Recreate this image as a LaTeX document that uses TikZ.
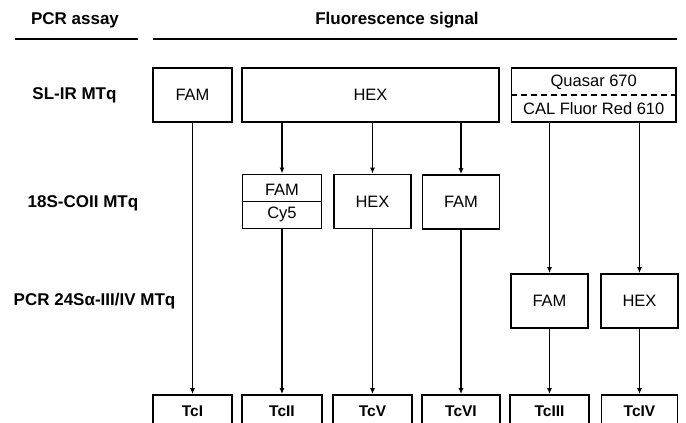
\documentclass[tikz,border=0pt]{standalone}
\usepackage{fontspec}
\setmainfont{Liberation Sans}
\usetikzlibrary{arrows.meta}
\tikzset{
  x=1pt, y=-1pt,
  box/.style={draw, line width=1.8pt, inner sep=0pt, minimum height=54pt,
    font=\fontsize{16.5}{19}\selectfont},
  tcbox/.style={draw, line width=1.8pt, inner sep=0pt, minimum height=33pt,
    font=\fontsize{15.5}{18}\selectfont\bfseries},
  lab/.style={inner sep=0pt, font=\fontsize{17}{20}\selectfont\bfseries},
  txt/.style={inner sep=0pt, font=\fontsize{16.5}{19}\selectfont},
  conn/.style={line width=1.6pt, -{Latex[length=6pt,width=5pt]}},
  hline/.style={line width=2.4pt},
}
\begin{document}
\begin{tikzpicture}
\useasboundingbox (0,0) rectangle (686,423);
\clip (0,0) rectangle (686,423);
% headers
\node[lab] (hpcr) at (75,20) {PCR assay};
\node[lab] (hflu) at (397,20) {Fluorescence signal};
\draw[hline] (15,39) -- (138,39);
\draw[hline] (153,39) -- (677,39);
% row labels
\node[lab] (r1) at (74.5,95) {SL-IR MTq};
\node[lab] (r2) at (83,203) {18S-COII MTq};
\node[lab] (r3) at (94.5,301.5) {PCR 24Sα-III/IV MTq};
% top row
\node[box, minimum width=79pt] (fam1) at (192.5,95) {FAM};
\node[box, minimum width=257pt] (hex1) at (370.5,95) {HEX};
\node[box, minimum width=164.5pt] (quas) at (593.75,95) {};
\draw[line width=1.4pt, dash pattern=on 6pt off 4pt] (quas.west) -- (quas.east);
\node[txt] (qtxt) at (593.75,82.5) {Quasar 670};
\node[txt] (ctxt) at (593.75,108.5) {CAL Fluor Red 610};
% middle row
\node[box, minimum width=79pt] (famcy) at (282,201.4) {};
\draw[line width=1.8pt] (famcy.west) -- (famcy.east);
\node[txt] (ftxt) at (282,189.5) {FAM};
\node[txt] (cytxt) at (282,214) {Cy5};
\node[box, minimum width=77pt] (hex2) at (372.5,201.5) {HEX};
\node[box, minimum width=77pt] (fam2) at (461,202) {FAM};
% third row
\node[box, minimum width=77pt] (fam3) at (549.5,301) {FAM};
\node[box, minimum width=77pt] (hex3) at (639.5,301) {HEX};
% bottom row
\node[tcbox, minimum width=79pt] (tc1) at (192.5,411.5) {TcI};
\node[tcbox, minimum width=80pt] (tc2) at (282,411.5) {TcII};
\node[tcbox, minimum width=79pt] (tc5) at (372.5,411.5) {TcV};
\node[tcbox, minimum width=78pt] (tc6) at (461,411.5) {TcVI};
\node[tcbox, minimum width=79pt] (tc3) at (549.5,411.5) {TcIII};
\node[tcbox, minimum width=76pt] (tc4) at (639.5,411.5) {TcIV};
% connectors
\draw[conn] (fam1.south) -- (tc1.north);
\draw[conn] (hex1.south -| famcy.north) -- (famcy.north);
\draw[conn] (hex1.south -| hex2.north) -- (hex2.north);
\draw[conn] (hex1.south -| fam2.north) -- (fam2.north);
\draw[conn] (quas.south -| fam3.north) -- (fam3.north);
\draw[conn] (quas.south -| hex3.north) -- (hex3.north);
\draw[conn] (famcy.south) -- (tc2.north);
\draw[conn] (hex2.south) -- (tc5.north);
\draw[conn] (fam2.south) -- (tc6.north);
\draw[conn] (fam3.south) -- (tc3.north);
\draw[conn] (hex3.south) -- (tc4.north);
\end{tikzpicture}
\end{document}
